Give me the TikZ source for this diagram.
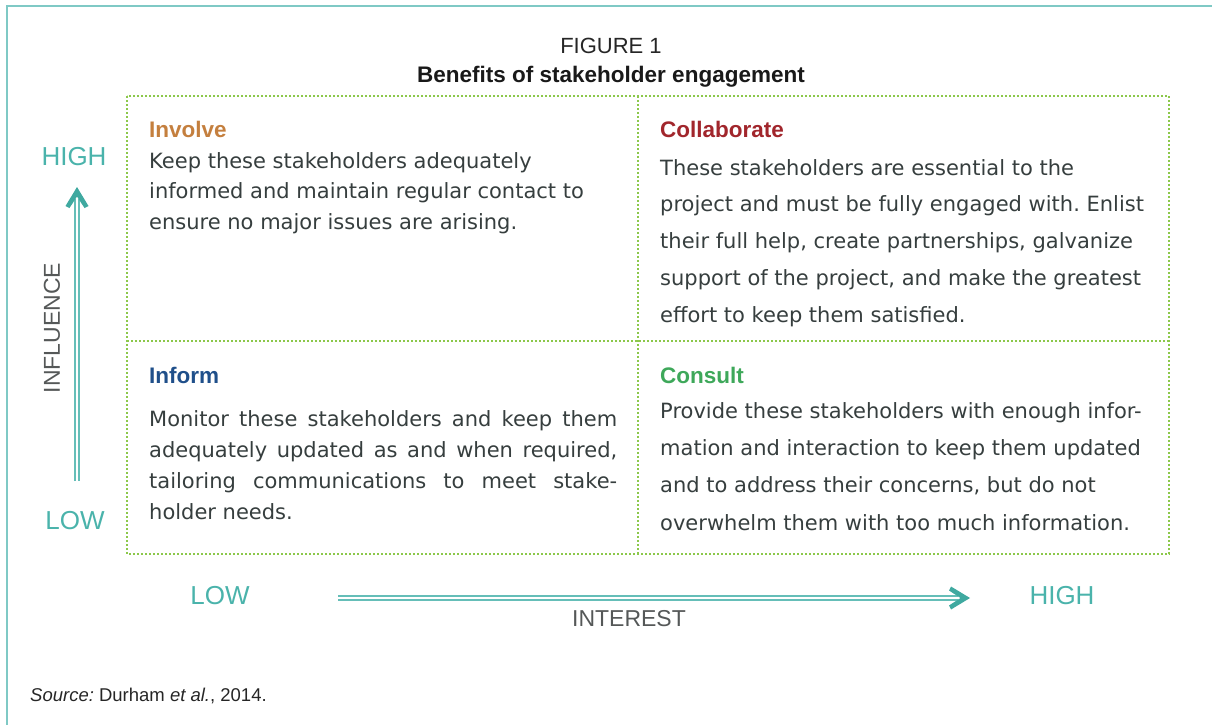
\documentclass[tikz,border=0pt]{standalone}
\usepackage{fontspec}
\setmainfont{Liberation Sans}
\newfontfamily\bodyfont{DejaVu Sans}
\frenchspacing
\definecolor{frameteal}{HTML}{7FC9C5}
\definecolor{axteal}{HTML}{4AB3AB}
\definecolor{arrowteal}{HTML}{3FA9A0}
\definecolor{gridgreen}{HTML}{8CC84B}
\definecolor{involvec}{HTML}{C47F3E}
\definecolor{collabc}{HTML}{A1262C}
\definecolor{informc}{HTML}{1F4F8A}
\definecolor{consultc}{HTML}{3EA85A}
\definecolor{bodyc}{HTML}{363E3E}
\definecolor{axisgray}{HTML}{555858}
\tikzset{
  gridline/.style={draw=gridgreen, line width=1.6pt, dash pattern=on 1.6pt off 2.4pt},
  heading/.style={anchor=base west, inner sep=0pt, font=\bfseries\fontsize{22.5}{26}\selectfont},
  bodytext/.style={anchor=north west, inner sep=0pt, align=left, text=bodyc},
  axlabel/.style={inner sep=0pt, text=axteal, font=\fontsize{26}{30}\selectfont},
  axname/.style={inner sep=0pt, text=axisgray, font=\fontsize{23}{27}\selectfont},
  shaft/.style={draw=axteal!85, line width=1.5pt, double=white, double distance=2.2pt},
  headfill/.style={fill=arrowteal, draw=none}
}
\begin{document}
\begin{tikzpicture}[x=1pt,y=-1pt]
\useasboundingbox (0,0) rectangle (1212,725);
% frame
\coordinate (ftr) at (1212,6);
\coordinate (ftl) at (7,6);
\coordinate (fbl) at (7,725);
\draw[frameteal, line width=2pt] (ftr) -- (ftl) -- (fbl);
% title
\node[inner sep=0pt, anchor=base, font=\fontsize{22}{26}\selectfont, text=black!85] (fig) at (611,53) {FIGURE 1};
\node[inner sep=0pt, anchor=base, font=\bfseries\fontsize{22.5}{26}\selectfont, text=black!90] (title) at (611,82) {Benefits of stakeholder engagement};
% grid
\coordinate (g1) at (127,96);
\coordinate (g2) at (1169,554);
\coordinate (gt) at (638,96);
\coordinate (gb) at (638,554);
\coordinate (gl) at (127,341);
\coordinate (gr) at (1169,341);
\draw[gridline] (g1) rectangle (g2);
\draw[gridline] (gt) -- (gb);
\draw[gridline] (gl) -- (gr);
% Involve
\node[heading, text=involvec] (h1) at (149,137) {Involve};
\node[bodytext, font=\bodyfont\fontsize{21}{30.5}\selectfont] (b1) at (149,152)
 {Keep these stakeholders adequately\\informed and maintain regular contact to\\ensure no major issues are arising.};
% Collaborate
\node[heading, text=collabc] (h2) at (660,137) {Collaborate};
\node[bodytext, font=\bodyfont\fontsize{21}{36.8}\selectfont] (b2) at (660,159)
 {These stakeholders are essential to the\\project and must be fully engaged with. Enlist\\their full help, create partnerships, galvanize\\support of the project, and make the greatest\\effort to keep them satisfied.};
% Inform
\node[heading, text=informc] (h3) at (149,383) {Inform};
\node[bodytext, font=\bodyfont\fontsize{21}{31}\selectfont] (b3) at (149,410)
 {\makebox[468pt][s]{Monitor these stakeholders and keep them}\\\makebox[468pt][s]{adequately updated as and when required,}\\\makebox[468pt][s]{tailoring communications to meet stake-}\\holder needs.};
% Consult
\node[heading, text=consultc] (h4) at (660,383) {Consult};
\node[bodytext, font=\bodyfont\fontsize{21}{37.3}\selectfont] (b4) at (660,402)
 {Provide these stakeholders with enough infor-\\mation and interaction to keep them updated\\and to address their concerns, but do not\\overwhelm them with too much information.};
% vertical axis
\node[axlabel] (vhigh) at (74,157) {HIGH};
\node[axlabel] (vlow) at (75,521) {LOW};
\node[axname, rotate=90] (infl) at (52,328) {INFLUENCE};
\coordinate (vs) at (77,481);
\coordinate (ve) at (77,199);
\coordinate (vtip) at (77,187);
\draw[shaft] (vs) -- (ve);
\fill[headfill] (vtip) -- (88.5,206) -- (84.5,208) -- (77,196.5) -- (69.5,208) -- (65.5,206) -- cycle;
% horizontal axis
\node[axlabel] (hlow) at (220,596) {LOW};
\node[axlabel] (hhigh) at (1062,596) {HIGH};
\node[axname] (intr) at (629,619) {INTEREST};
\coordinate (hs) at (338,598);
\coordinate (he) at (958,598);
\coordinate (htip) at (970,598);
\draw[shaft] (hs) -- (he);
\fill[headfill] (htip) -- (951,609.5) -- (949,605.5) -- (960.5,598) -- (949,590.5) -- (951,586.5) -- cycle;
% source
\node[anchor=base west, inner sep=0pt, font=\fontsize{18.5}{21}\selectfont, text=black!85] (src) at (30,701)
 {\textit{Source:} Durham \textit{et al.}, 2014.};
\end{tikzpicture}
\end{document}
